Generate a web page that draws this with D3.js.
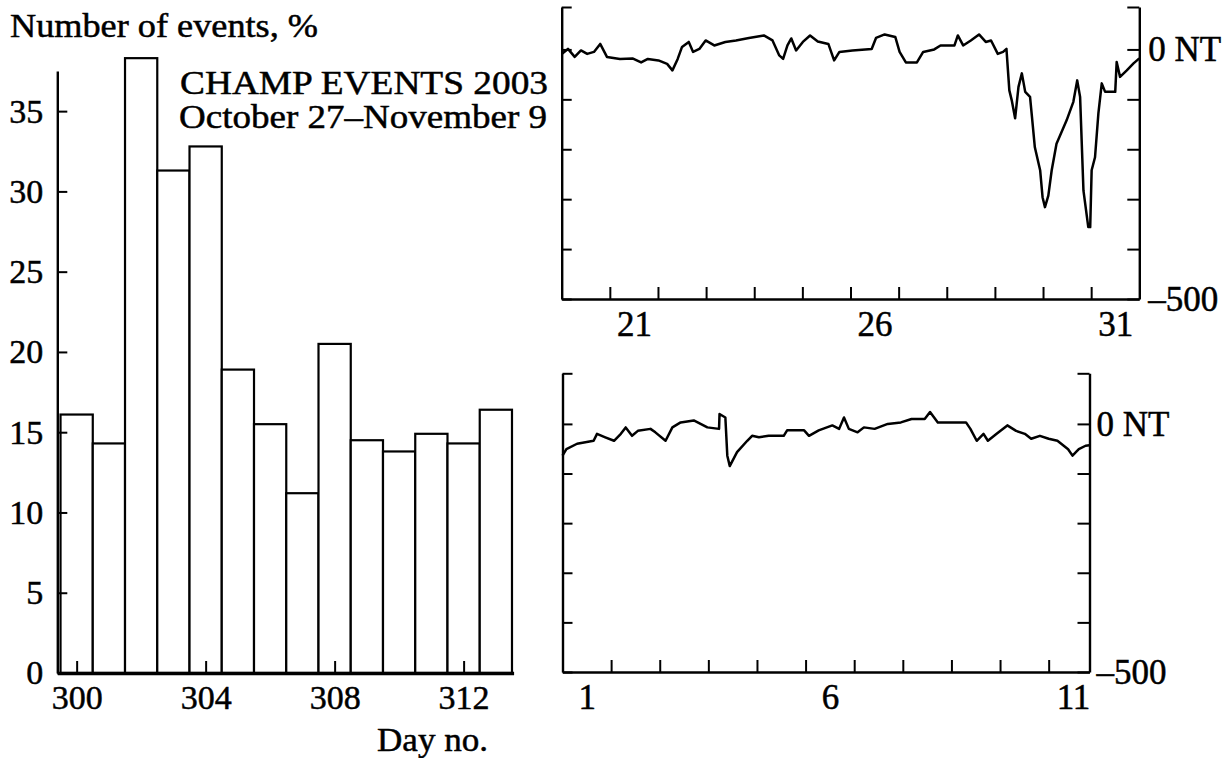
<!DOCTYPE html>
<html>
<head>
<meta charset="utf-8">
<script src="https://cdn.jsdelivr.net/npm/d3@7"></script>
<style>
  body { margin: 0; background: #fff; }
  svg { display: block; }
  text { font-family: "Liberation Serif", "Times New Roman", serif; fill: #000; stroke: #000; stroke-width: 0.5px; }
</style>
</head>
<body>
<div id="chart"></div>
<script>
// histogram: CHAMP events per day
var days = [300, 301, 302, 303, 304, 305, 306, 307, 308, 309, 310, 311, 312, 313]
var eventPct = [16.1, 14.3, 38.3, 31.3, 32.8, 18.9, 15.5, 11.2, 20.5, 14.5, 13.8, 14.9, 14.3, 16.4]
var histTicksY = [0, 5, 10, 15, 20, 25, 30, 35]
var histTicksX = [300, 304, 308, 312]

// Dst, October 20 - November 1 (day of month, nT)
var octDay = [20.0, 20.13, 20.27, 20.40, 20.53, 20.67, 20.80, 20.94, 21.21, 21.47, 21.65, 21.79,
	22.01, 22.19, 22.30, 22.41, 22.50, 22.64, 22.73, 22.86, 22.99, 23.17, 23.40, 23.62, 23.89,
	24.20, 24.38, 24.52, 24.60, 24.69, 24.77, 24.87, 25.01, 25.16, 25.32, 25.54, 25.66, 25.77,
	26.04, 26.44, 26.53, 26.71, 26.93, 27.02, 27.15, 27.38, 27.51, 27.74, 27.87, 28.16, 28.23,
	28.34, 28.50, 28.67, 28.81, 28.92, 29.06, 29.17, 29.24, 29.30, 29.35, 29.42, 29.49, 29.56,
	29.63, 29.73, 29.77, 29.83, 29.94, 29.99, 30.04, 30.11, 30.18, 30.28, 30.49, 30.63, 30.71,
	30.77, 30.84, 30.94, 30.98, 31.01, 31.08, 31.15, 31.22, 31.29, 31.50, 31.53, 31.60, 31.74,
	31.88, 32.0]
var octDst = [-9, 1, -15, -2, -9, -5, 11, -15, -19, -18, -26, -19,
	-22, -29, -42, -19, 5, 15, -5, 1, 18, 8, 15, 18, 23,
	28, 18, -12, -19, 8, 22, -2, 15, 28, 16, 11, -22, -5,
	-2, 1, 23, 30, 25, -5, -26, -26, -5, 0, 8, 8, 28,
	8, 18, 30, 15, 18, -9, -5, 1, -82, -102, -138, -75, -48,
	-85, -95, -135, -196, -242, -296, -316, -293, -242, -189, -142, -105, -62,
	-95, -283, -356, -356, -242, -216, -128, -68, -85, -85, -25, -55, -42,
	-28, -18]
var octTicks = [21, 22, 23, 24, 25, 26, 27, 28, 29, 30, 31]
var octLabels = [21, 26, 31]

// Dst, November 1 - 11
var novDay = [1.0, 1.08, 1.30, 1.64, 1.71, 1.88, 2.06, 2.20, 2.30, 2.43, 2.55, 2.81, 2.91,
	3.12, 3.26, 3.43, 3.70, 3.98, 4.22, 4.23, 4.35, 4.39, 4.44, 4.59, 4.80, 4.90,
	5.04, 5.24, 5.55, 5.62, 5.97, 6.07, 6.27, 6.55, 6.69, 6.79, 6.89, 7.07, 7.20, 7.42, 7.69, 7.96,
	8.18, 8.45, 8.56, 8.72, 9.03, 9.30, 9.39, 9.52, 9.66, 9.75, 9.93, 10.15, 10.33, 10.51, 10.64, 10.82,
	11.00, 11.18, 11.31, 11.40, 11.49, 11.62, 11.76, 11.84]
var novDst = [-64, -51, -40, -34, -20, -27, -34, -20, -7, -24, -14, -10, -17,
	-34, -7, 3, 7, -7, -10, 20, 13, -64, -85, -57, -34, -24,
	-27, -24, -24, -13, -13, -24, -13, -3, -10, 13, -10, -17, -7, -10, 0, 3,
	10, 10, 24, 3, 3, 3, -10, -34, -20, -34, -20, -3, -14, -20, -30, -24,
	-30, -34, -44, -51, -64, -51, -44, -43]
var novTicks = [2, 3, 4, 5, 6, 7, 8, 9, 10, 11]
var novLabels = [1, 6, 11]

var dstTicks = [-500, -400, -300, -200, -100, 0]

var width = 1230, height = 758
var fontSize = 34

var svg = d3.select("#chart").append("svg")
	.attr("width", width)
	.attr("height", height)

svg.append("rect").attr("width", width).attr("height", height).attr("fill", "#fff")

// ---------- histogram ----------
var x = d3.scaleLinear().domain([299.4, 313.55]).range([57.3, 513.6])
var y = d3.scaleLinear().domain([0, 37.5]).range([673, 71])

var hist = svg.append("g")

hist.selectAll(".bar")
	.data(days)
	.enter().append("rect")
	.attr("class", "bar")
	.attr("x", function(d) { return x(Math.max(d - 0.5, x.domain()[0])) })
	.attr("width", function(d) { return x(d + 0.5) - x(Math.max(d - 0.5, x.domain()[0])) })
	.attr("y", function(d, i) { return y(eventPct[i]) })
	.attr("height", function(d, i) { return y(0) - y(eventPct[i]) })
	.attr("fill", "#fff")
	.attr("stroke", "#000")
	.attr("stroke-width", 2.2)

var yAxis = hist.append("g")
	.attr("transform", "translate(" + x.range()[0] + ",0)")
	.call(d3.axisLeft(y).tickValues(histTicksY).tickSize(-10).tickSizeOuter(0).tickPadding(14))

var xAxis = hist.append("g")
	.attr("transform", "translate(0," + y(0) + ")")
	.call(d3.axisBottom(x).tickValues(histTicksX).tickSize(-12).tickSizeOuter(0).tickPadding(12).tickFormat(d3.format("d")))

xAxis.select(".domain").attr("stroke-width", 3.5)
yAxis.select(".domain").attr("stroke-width", 2.4)
hist.selectAll(".tick line").attr("stroke-width", 2)
hist.selectAll(".tick text").attr("font-size", fontSize).attr("font-family", null)

hist.append("text")
	.attr("x", 10).attr("y", 37)
	.attr("font-size", fontSize)
	.attr("textLength", 308).attr("lengthAdjust", "spacingAndGlyphs")
	.text("Number of events, %")

hist.append("text")
	.attr("x", 180).attr("y", 94)
	.attr("font-size", fontSize)
	.attr("textLength", 368).attr("lengthAdjust", "spacingAndGlyphs")
	.text("CHAMP EVENTS 2003")

hist.append("text")
	.attr("x", 179).attr("y", 128)
	.attr("font-size", fontSize)
	.attr("textLength", 368).attr("lengthAdjust", "spacingAndGlyphs")
	.text("October 27\u2013November 9")

hist.append("text")
	.attr("x", 377).attr("y", 751)
	.attr("font-size", fontSize)
	.attr("textLength", 111).attr("lengthAdjust", "spacingAndGlyphs")
	.text("Day no.")

// ---------- Dst panels ----------
function dstPanel(dayVals, dstVals, xDomain, xRange, yDomain, yRange, ticks, labels, rightPad) {
	var px = d3.scaleLinear().domain(xDomain).range(xRange)
	var py = d3.scaleLinear().domain(yDomain).range(yRange)
	var g = svg.append("g")

	var line = d3.line()
		.x(function(d) { return px(d[0]) })
		.y(function(d) { return py(d[1]) })

	g.append("path")
		.datum(dayVals.map(function(d, i) { return [d, dstVals[i]] }))
		.attr("fill", "none")
		.attr("stroke", "#000")
		.attr("stroke-width", 2.5)
		.attr("stroke-linejoin", "round")
		.attr("d", line)

	var yTicks = dstTicks.concat([yDomain[1]])

	g.append("g")
		.attr("transform", "translate(" + xRange[0] + ",0)")
		.call(d3.axisLeft(py).tickValues(yTicks).tickSize(-10).tickSizeOuter(0).tickFormat(""))

	g.append("g")
		.attr("class", "right")
		.attr("transform", "translate(" + xRange[1] + ",0)")
		.call(d3.axisRight(py).tickValues(yTicks).tickSize(-12).tickSizeOuter(0).tickPadding(rightPad)
			.tickFormat(function(d) {
				if (d === 0) return "0 NT"
				if (d === -500) return "\u2013500"
				return ""
			}))

	g.append("g")
		.attr("transform", "translate(0," + yRange[0] + ")")
		.call(d3.axisBottom(px).tickValues(ticks).tickSize(-12).tickSizeOuter(0).tickFormat(""))

	// day numbers sit in the middle of each day
	var lab = g.append("g")
		.attr("transform", "translate(0," + yRange[0] + ")")
		.call(d3.axisBottom(px).tickValues(labels.map(function(d) { return d + 0.5 }))
			.tickSize(0).tickPadding(12).tickFormat(function(d) { return Math.floor(d) }))
	lab.select(".domain").remove()

	g.selectAll(".domain").attr("stroke-width", 2.4)
	g.selectAll(".tick line").attr("stroke-width", 2)
	g.selectAll(".tick text").attr("font-size", fontSize + 1).attr("font-family", null)
}

dstPanel(octDay, octDst, [20, 32], [561.7, 1139.3], [-500, 85], [299, 7], octTicks, octLabels, 9)
dstPanel(novDay, novDst, [1, 11.84], [562.5, 1089.5], [-500, 102], [672, 373.3], novTicks, novLabels, 7)
</script>
</body>
</html>
